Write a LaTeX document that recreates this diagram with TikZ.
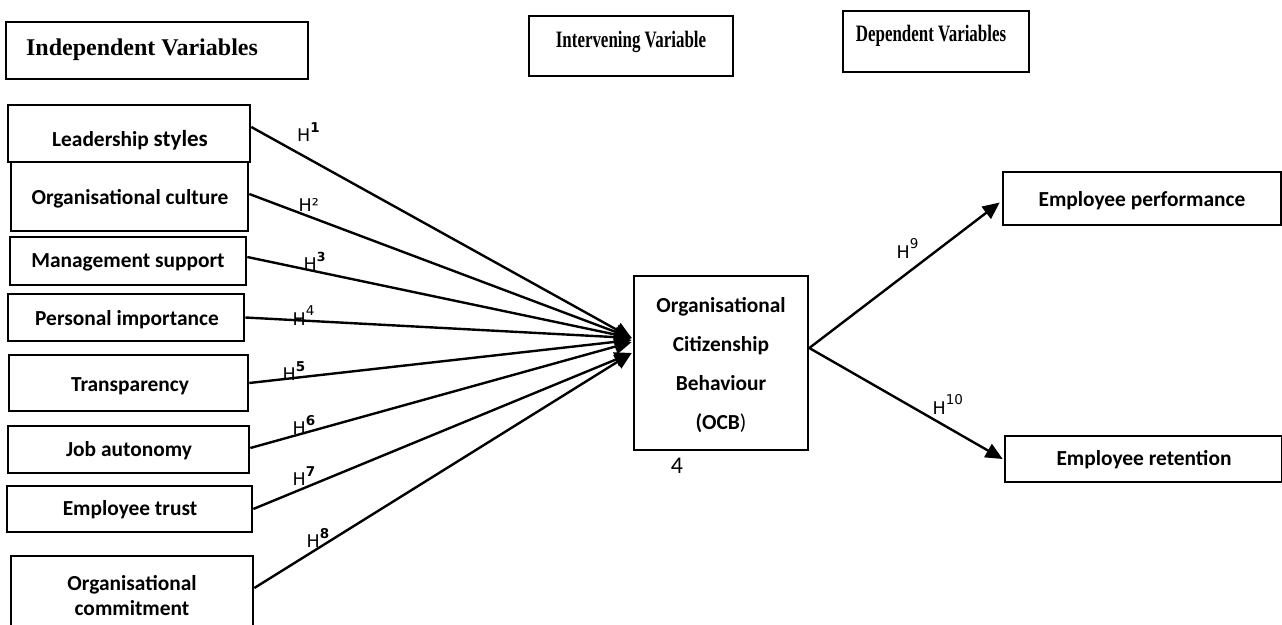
\documentclass[tikz,border=0pt]{standalone}
\usepackage{fontspec}
\usetikzlibrary{arrows.meta}
\newfontfamily\calfont{Carlito}
\newfontfamily\hfont{DejaVu Sans}
\newfontfamily\tnrfont{Liberation Serif}
\begin{document}
\begin{tikzpicture}[x=1pt,y=-1pt,
  varbox/.style={draw, line width=2.6pt, inner sep=0pt, align=center,
     font=\calfont\bfseries\fontsize{21.4}{25}\selectfont},
  vartext/.style={inner sep=0pt, align=center,
     font=\calfont\bfseries\fontsize{21.4}{25}\selectfont},
  titlebox/.style={draw, line width=2pt, inner sep=0pt},
  titletext/.style={font=\tnrfont\bfseries\fontsize{24}{26}\selectfont},
  conn/.style={line width=2.4pt, -{Triangle[length=17pt,width=15pt]}},
  hyp/.style={anchor=base west, inner sep=0pt, font=\hfont\fontsize{17.5}{19}\selectfont}
]
\useasboundingbox (0,0) rectangle (1282,624);
\clip (0,0) rectangle (1282,624);
\fill[white] (0,0) rectangle (1282,624);

% title boxes
\node[titlebox, minimum width=302, minimum height=57,
  label={[titletext, xshift=-15pt, yshift=1pt]center:Independent Variables}] (indep) at (157,50.5) {};
\node[titlebox, minimum width=204, minimum height=60,
  label={[titletext, yshift=4pt]center:\scalebox{0.72}[1]{\fontsize{23.5}{25}\selectfont Intervening Variable}}] (interv) at (631,46) {};
\node[titlebox, minimum width=186, minimum height=61,
  label={[titletext, xshift=-5pt, yshift=6pt]center:\scalebox{0.72}[1]{\fontsize{23.5}{25}\selectfont Dependent Variables}}] (dep) at (936,41.5) {};

% independent variables
\node[varbox, minimum width=242, minimum height=57] (lead) at (129,133.5) {};
\node[vartext] (leadtxt) at (130,140) {Leadership {\fontsize{23}{25}\selectfont styles}};
\node[varbox, minimum width=237, minimum height=69] (cult) at (129.5,196.5) {};
\node[vartext] (culttxt) at (130,199) {Organisational culture};
\node[varbox, minimum width=236, minimum height=48] (mgmt) at (128,261) {};
\node[vartext] (mgmttxt) at (128,262) {Management support};
\node[varbox, minimum width=236, minimum height=47] (pers) at (126,317.5) {};
\node[vartext] (perstxt) at (127,320) {Personal importance};
\node[varbox, minimum width=239, minimum height=56] (transp) at (128.5,383) {};
\node[vartext] (transptxt) at (130,386) {Transparency};
\node[varbox, minimum width=241, minimum height=47] (jobaut) at (128.5,449.5) {};
\node[vartext] (jobauttxt) at (129,451) {Job autonomy};
\node[varbox, minimum width=245, minimum height=46] (trust) at (129.5,509) {};
\node[vartext] (trusttxt) at (130,510) {Employee trust};
\node[varbox, minimum width=242, minimum height=88] (commit) at (132,600) {};
\node[vartext] (committxt) at (132,595.5) {Organisational\\commitment};

% intervening variable
\node[varbox, minimum width=174, minimum height=174] (ocb) at (721,363) {};
\node[vartext, font=\calfont\bfseries\fontsize{21.4}{39}\selectfont] (ocbtxt) at (721,365.5)
  {Organisational\\Citizenship\\Behaviour\\(OCB{\mdseries)}};
\node[inner sep=0pt, font=\calfont\fontsize{24}{26}\selectfont] (four) at (677,466) {4};

% dependent variables
\node[varbox, minimum width=278, minimum height=53] (perf) at (1142,198.5) {};
\node[vartext] (perftxt) at (1142,201) {Employee performance};
\node[varbox, minimum width=277, minimum height=46] (ret) at (1143.5,459) {};
\node[vartext] (rettxt) at (1144,460) {Employee retention};

% target coordinates
\coordinate (tipA) at ([yshift=25pt, xshift=-1pt]ocb.west);
\coordinate (tipB) at ([yshift=10pt, xshift=-1pt]ocb.west);
\coordinate (src) at ([yshift=15pt]ocb.east);

% connectors
\draw[conn] ([yshift=6.5pt]lead.east) -- (tipA);
\draw[conn] ([yshift=2.5pt]cult.east) -- (tipA);
\draw[conn] ([yshift=4pt]mgmt.east) -- (tipA);
\draw[conn] (pers.east) -- (tipA);
\draw[conn] (transp.east) -- ([yshift=-2pt]tipA);
\draw[conn] ([yshift=1.5pt]jobaut.east) -- ([yshift=-4pt]tipA);
\draw[conn] (trust.east) -- (tipB);
\draw[conn] ([yshift=12pt]commit.east) -- (tipB);
\draw[conn] (src) -- ([yshift=-4pt, xshift=-2pt]perf.west);
\draw[conn] (src) -- ([xshift=-1pt]ret.west);

% hypothesis labels
\node[hyp] (h1) at (297,141) {H\raisebox{9pt}{\fontsize{13.5}{13}\selectfont\bfseries 1}};
\node[hyp] (h2) at (298.5,211) {H²};
\node[hyp] (h3) at (303.5,270) {H\raisebox{8.5pt}{\fontsize{12.5}{13}\selectfont\bfseries 3}};
\node[hyp] (h4) at (292.5,325) {H\raisebox{9.5pt}{\fontsize{13.5}{13}\selectfont 4}};
\node[hyp] (h5) at (282.5,380) {H\raisebox{9pt}{\fontsize{13.5}{13}\selectfont\bfseries 5}};
\node[hyp] (h6) at (292.5,434) {H\raisebox{9pt}{\fontsize{13.5}{13}\selectfont\bfseries 6}};
\node[hyp] (h7) at (292.5,485) {H\raisebox{9pt}{\fontsize{13.5}{13}\selectfont\bfseries 7}};
\node[hyp] (h8) at (306.5,547) {H\raisebox{9pt}{\fontsize{13.5}{13}\selectfont\bfseries 8}};
\node[hyp] (h9) at (896.5,258) {H\raisebox{9.5pt}{\fontsize{13.5}{13}\selectfont 9}};
\node[hyp] (h10) at (932.5,414) {H\raisebox{9.5pt}{\fontsize{13.5}{13}\selectfont 10}};
\end{tikzpicture}
\end{document}
